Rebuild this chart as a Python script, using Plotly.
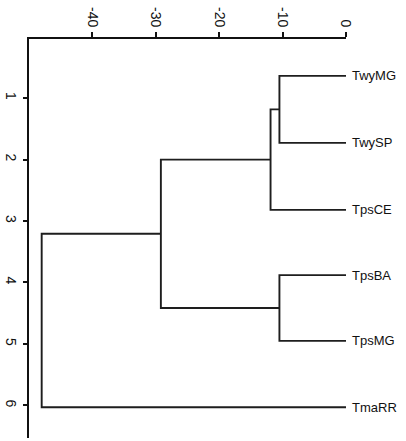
import plotly.graph_objects as go

# Leaves (top to bottom) and their positions on the vertical axis
leaf_labels = ["TwyMG", "TwySP", "TpsCE", "TpsBA", "TpsMG", "TmaRR"]
leaf_pos = [0.64, 1.73, 2.82, 3.88, 4.95, 6.03]

# Merges: node ids continue after the leaves (6, 7, 8, 9, 10)
merge_a = [0, 6, 3, 7, 9]
merge_b = [1, 2, 4, 8, 5]
merge_height = [-10.5, -11.9, -10.5, -29.2, -48.0]

x_ticks = [-40, -30, -20, -10, 0]
y_ticks = [1, 2, 3, 4, 5, 6]

# Build node coordinates
node_x = [0.0] * len(leaf_labels)
node_y = list(leaf_pos)
xs, ys = [], []
for a, b, h in zip(merge_a, merge_b, merge_height):
    xa, ya = node_x[a], node_y[a]
    xb, yb = node_x[b], node_y[b]
    xs += [xa, h, h, xb, None]
    ys += [ya, ya, yb, yb, None]
    node_x.append(h)
    node_y.append((ya + yb) / 2)

fig = go.Figure()
fig.add_trace(go.Scatter(
    x=xs, y=ys, mode="lines",
    line=dict(color="#1e1e1e", width=1.9),
    hoverinfo="skip", showlegend=False, cliponaxis=False,
))

font = dict(family="Liberation Sans, Arial, sans-serif", size=13, color="#111111")
tick_font = dict(family="Liberation Sans, Arial, sans-serif", size=14, color="#111111")

for lab, yp in zip(leaf_labels, leaf_pos):
    fig.add_annotation(
        x=0, y=yp, xref="x", yref="y", text=lab, showarrow=False,
        xanchor="left", yanchor="middle", xshift=4,
        font=font,
    )

fig.update_layout(
    width=406, height=441,
    margin=dict(l=29, r=60, t=39, b=3),
    paper_bgcolor="white", plot_bgcolor="white",
    font=font,
    showlegend=False,
    hovermode=False,
    xaxis=dict(
        side="top", range=[-50, 0], tickvals=x_ticks, ticktext=[str(v) for v in x_ticks],
        tickangle=90, ticks="outside", ticklen=5, tickwidth=1.5, tickcolor="#111111",
        showline=True, linecolor="#111111", linewidth=1.6, automargin=False,
        showgrid=False, zeroline=False, tickfont=tick_font,
    ),
    yaxis=dict(
        range=[6.53, 0.04], tickvals=y_ticks, ticktext=[str(v) for v in y_ticks],
        tickangle=90, ticks="outside", ticklen=4, tickwidth=1.5, tickcolor="#111111",
        showline=True, linecolor="#111111", linewidth=1.6, automargin=False,
        showgrid=False, zeroline=False, tickfont=tick_font,
    ),
)

fig.write_html("out.html", config={"displayModeBar": False},
               post_script="document.body.style.margin='0';")
